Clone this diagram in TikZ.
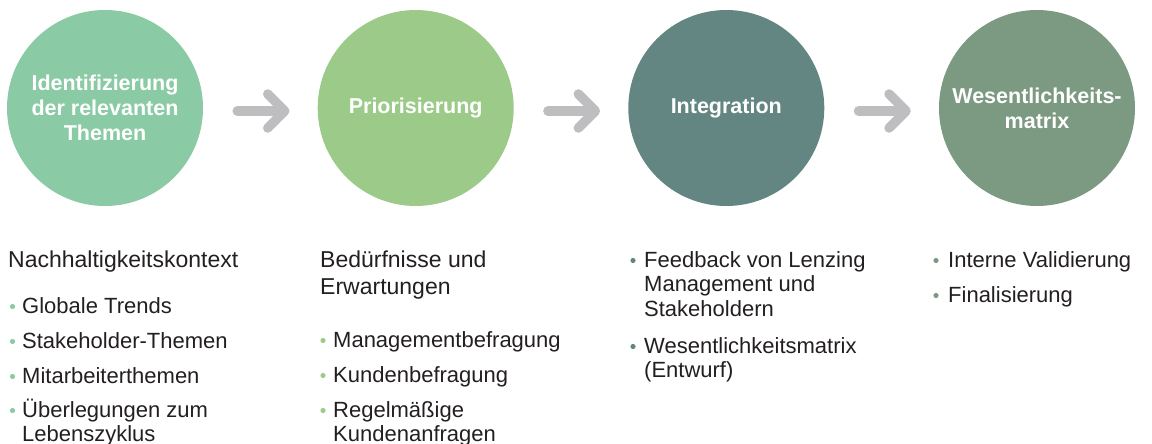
\documentclass[tikz,border=0pt]{standalone}
\usepackage{fontspec}
\setmainfont{Liberation Sans}
\usetikzlibrary{arrows.meta}
\definecolor{cA}{HTML}{8ACAA5}
\definecolor{cB}{HTML}{9CCB89}
\definecolor{cC}{HTML}{648683}
\definecolor{cD}{HTML}{7C9A81}
\definecolor{arrowgray}{HTML}{BEBEC1}
\definecolor{txt}{HTML}{231F20}
\begin{document}
\begin{tikzpicture}[x=1pt,y=-1pt,
  phase/.style={circle, minimum size=196pt, inner sep=0pt, text=white, align=center,
    font=\fontsize{21.5}{25}\selectfont\bfseries},
  flow/.style={line width=9.5pt, draw=arrowgray, line cap=round,
    -{Straight Barb[length=17pt,width=34pt,round]}, shorten <=34pt, shorten >=28pt},
  head/.style={anchor=base west, align=left, text=txt, inner sep=0pt,
    font=\fontsize{23}{27}\selectfont},
  item/.style={anchor=base west, align=left, text=txt, inner sep=0pt,
    font=\fontsize{22}{24.5}\selectfont},
]
\useasboundingbox (0,0) rectangle (1152,444);

% phases
\node[phase, fill=cA] (c1) at (105,108) {Identifizierung\\der relevanten\\Themen};
\node[phase, fill=cB] (c2) at (415.7,108) {Priorisierung};
\node[phase, fill=cC] (c3) at (726.3,108) {Integration};
\node[phase, fill=cD] (c4) at (1037,108) {Wesentlichkeits-\\matrix};

% arrows
\draw[flow] ([yshift=-3pt]c1.east) -- ([yshift=-3pt]c2.west);
\draw[flow] ([yshift=-3pt]c2.east) -- ([yshift=-3pt]c3.west);
\draw[flow] ([yshift=-3pt]c3.east) -- ([yshift=-3pt]c4.west);

% column 1 (multi-line nodes are placed at the baseline of their last line)
\node[head] (h1) at (8,267) {Nachhaltigkeitskontext};
\node[item] (i1a) at (22,313) {Globale Trends};
\node[item] (i1b) at (22,348) {Stakeholder-Themen};
\node[item] (i1c) at (22,383) {Mitarbeiterthemen};
\node[item] (i1d) at (22,441.5) {Überlegungen zum\\Lebenszyklus};
\foreach \y in {313,348,383,417} \fill[cA] (12.5,\y-6.5) circle (2.6pt);

% column 2
\node[head] (h2) at (320,294) {Bedürfnisse und\\Erwartungen};
\node[item] (i2a) at (333,347) {Managementbefragung};
\node[item] (i2b) at (333,382) {Kundenbefragung};
\node[item] (i2c) at (333,441.5) {Regelmäßige\\Kundenanfragen};
\foreach \y in {347,382,417} \fill[cB] (323,\y-6.5) circle (2.6pt);

% column 3
\node[item] (i3a) at (644,316) {Feedback von Lenzing\\Management und\\Stakeholdern};
\node[item] (i3b) at (644,377.5) {Wesentlichkeitsmatrix\\(Entwurf)};
\foreach \y in {267,353} \fill[cC] (633,\y-6.5) circle (2.6pt);

% column 4
\node[item] (i4a) at (948,267) {Interne Validierung};
\node[item] (i4b) at (948,302) {Finalisierung};
\foreach \y in {267,302} \fill[cD] (936,\y-6.5) circle (2.6pt);
\end{tikzpicture}
\end{document}
